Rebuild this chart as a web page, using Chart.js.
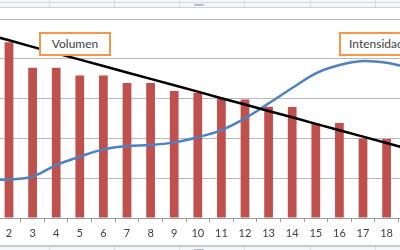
<!DOCTYPE html>
<html><head><meta charset="utf-8">
<script src="https://cdn.jsdelivr.net/npm/chart.js@4/dist/chart.umd.min.js"></script>
<style>
html,body{margin:0;padding:0;width:400px;height:250px;overflow:hidden;background:#fff;}
body{position:relative;font-family:Lato,"Open Sans",sans-serif;}
#c{position:absolute;left:-40px;top:0;}
.strip{position:absolute;left:0;width:400px;background:#f3f6fa;}
.vl{position:absolute;width:1px;background:#d4dbe3;}
.hl{position:absolute;left:0;width:400px;height:1px;background:#d4dbe3;}
.box{position:absolute;background:#fff;border:2px solid #F79646;box-sizing:border-box;height:24px;font-size:12px;color:#404040;line-height:20px;white-space:nowrap;}
.grip{position:absolute;font-size:6px;color:#8a96a6;letter-spacing:0px;line-height:6px;}
</style></head>
<body>
<div class="strip" style="top:0;height:8px"></div>
<div class="hl" style="top:2px"></div>
<div class="hl" style="top:7px;background:#c9d1da"></div>
<div class="strip" style="top:246px;height:4px"></div>
<div class="hl" style="top:245px;height:2px;background:#c8ccd1"></div>
<div id="vls"></div>
<div class="grip" style="left:194px;top:2px">▪▪▪▪</div>
<div class="grip" style="left:194px;top:247px">▪▪▪▪</div>
<canvas id="c" width="480" height="250"></canvas>
<div class="box" style="left:39px;top:32px;width:72px;text-align:center;">Volumen</div>
<div class="box" style="left:339px;top:32px;width:70px;padding-left:8px;">Intensidad</div>
<script>
const categories = ['1','2','3','4','5','6','7','8','9','10','11','12','13','14','15','16','17','18','19'];
const volumen = [88, 88.3, 75.5, 75.5, 71.6, 71.6, 67.8, 67.8, 63.8, 63.0, 59.8, 59.5, 55.9, 55.8, 47.5, 47.7, 40.0, 39.7, 36];
const tendencia = [92.5, 89.3, 86.0, 82.8, 79.6, 76.4, 73.1, 69.9, 66.7, 63.5, 60.2, 57.0, 53.8, 50.6, 47.3, 44.1, 40.9, 37.7, 34.4];
const intensidad = [19.3, 19.4, 20.8, 26.6, 30.8, 34.5, 36.2, 36.7, 38.0, 40.6, 44.2, 50.1, 57.6, 65.3, 72.7, 76.9, 78.9, 78.0, 75.4];
const yTicks = [0, 20, 40, 60, 80, 100];

// spreadsheet column lines
const colX = [49, 114, 179, 244, 310, 375];
const vls = document.getElementById('vls');
colX.forEach(x => {
  const a = document.createElement('div'); a.className='vl'; a.style.left=x+'px'; a.style.top='0px'; a.style.height='7px'; vls.appendChild(a);
  const b = document.createElement('div'); b.className='vl'; b.style.left=x+'px'; b.style.top='247px'; b.style.height='3px'; vls.appendChild(b);
});

new Chart(document.getElementById('c'), {
  type: 'bar',
  data: {
    labels: categories,
    datasets: [
      { type: 'line', data: tendencia, borderColor: '#000', borderWidth: 2.5, pointRadius: 0, order: 1, tension: 0 },
      { type: 'line', data: intensidad, borderColor: '#4F81BD', borderWidth: 2.5, pointRadius: 0, order: 2, tension: 0.35 },
      { type: 'bar', data: volumen, backgroundColor: '#C0504D', barPercentage: 0.37, categoryPercentage: 1, order: 3 }
    ]
  },
  options: {
    responsive: false,
    animation: false,
    events: [],
    layout: { padding: { left: 13.6, right: 18, top: 19, bottom: 0 } },
    plugins: { legend: { display: false }, tooltip: { enabled: false } },
    scales: {
      x: {
        offset: true,
        grid: { offset: true, drawOnChartArea: false, drawTicks: true, tickLength: 4, color: '#9a9a9a' },
        border: { display: true, color: '#9a9a9a' },
        ticks: { color: '#404040', font: { family: 'Lato', size: 11 }, padding: 5, maxRotation: 0, autoSkip: false },
        afterFit: s => { s.height = 32; }
      },
      y: {
        min: 0, max: 100,
        afterBuildTicks: s => { s.ticks = yTicks.map(v => ({ value: v })); },
        grid: { color: '#b8b8b8', drawTicks: false },
        border: { display: false },
        ticks: { display: false },
        afterFit: s => { s.width = 0; }
      }
    }
  }
});
</script>
</body></html>
